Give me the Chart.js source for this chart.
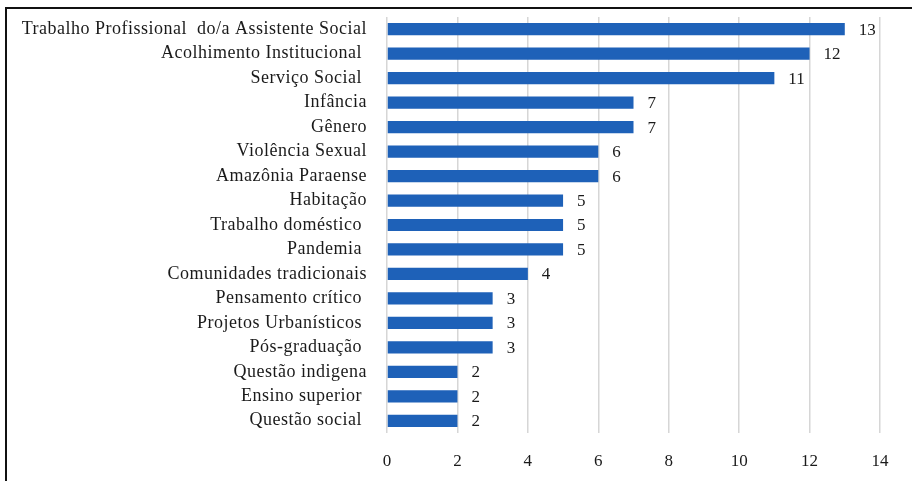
<!DOCTYPE html>
<html>
<head>
<meta charset="utf-8">
<script src="https://cdn.jsdelivr.net/npm/chart.js@4"></script>
<style>
  html, body { margin: 0; padding: 0; background: #fff; overflow: hidden; }
  #wrap { position: relative; width: 912px; height: 481px; }
  #frame { position: absolute; left: 5px; top: 7px; width: 1000px; height: 600px;
           border-left: 2px solid #111; border-top: 2px solid #111; }
  canvas { position: absolute; left: 0; top: 0; }
</style>
</head>
<body>
<div id="wrap">
  <div id="frame"></div>
  <canvas id="chart" width="912" height="481"></canvas>
</div>
<script>
const categories = [
    'Trabalho Profissional  do/a Assistente Social',
    'Acolhimento Institucional ',
    'Serviço Social ',
    'Infância',
    'Gênero',
    'Violência Sexual',
    'Amazônia Paraense',
    'Habitação',
    'Trabalho doméstico ',
    'Pandemia ',
    'Comunidades tradicionais',
    'Pensamento crítico ',
    'Projetos Urbanísticos ',
    'Pós-graduação ',
    'Questão indigena',
    'Ensino superior ',
    'Questão social '
];
const values = [13, 12, 11, 7, 7, 6, 6, 5, 5, 5, 4, 3, 3, 3, 2, 2, 2];
const xTicks = [0, 2, 4, 6, 8, 10, 12, 14];

const serif = "'Liberation Serif', 'DejaVu Serif', serif";
const textColor = '#1a1a1a';

const barValues = {
    id: 'barValues',
    afterLayout(chart) {
        // the category labels in the original are spaced out a little
        const y = chart.scales.y;
        if (!y._spaced) {
            const orig = y.drawLabels.bind(y);
            y.drawLabels = function (area) {
                const c = chart.ctx;
                c.save();
                c.letterSpacing = '0.5px';
                orig(area);
                c.restore();
            };
            y._spaced = true;
        }
    },
    // numbers at the end of each bar
    afterDatasetsDraw(chart) {
        const c = chart.ctx;
        const meta = chart.getDatasetMeta(0);
        c.save();
        c.font = '17px ' + serif;
        c.fillStyle = textColor;
        c.textAlign = 'left';
        c.textBaseline = 'middle';
        meta.data.forEach((bar, i) => {
            c.fillText(String(values[i]), bar.x + 14, bar.y + 1);
        });
        c.restore();
    }
};

new Chart(document.getElementById('chart'), {
    type: 'bar',
    data: {
        labels: categories,
        datasets: [{
            data: values,
            backgroundColor: '#1E61B8',
            barPercentage: 0.5,
            categoryPercentage: 1
        }]
    },
    options: {
        indexAxis: 'y',
        responsive: false,
        animation: false,
        layout: { padding: { left: 0, top: 17, right: 32, bottom: 0 } },
        plugins: { legend: { display: false }, tooltip: { enabled: false } },
        scales: {
            x: {
                min: 0,
                max: 14,
                afterBuildTicks(scale) {
                    scale.ticks = xTicks.map(v => ({ value: v }));
                },
                afterFit(scale) {
                    scale.height = 48;
                    scale.paddingLeft = 0;
                    scale.paddingRight = 0;
                },
                grid: { color: '#d6d6d6', lineWidth: 1.5, drawTicks: false },
                border: { display: false },
                ticks: { padding: 18, color: textColor, font: { family: serif, size: 17 } }
            },
            y: {
                afterFit(scale) {
                    scale.width = 387;
                    scale.paddingTop = 0;
                    scale.paddingBottom = 0;
                },
                grid: { display: false, drawTicks: false },
                border: { display: false },
                ticks: { autoSkip: false, padding: 20, color: textColor, font: { family: serif, size: 18 } }
            }
        }
    },
    plugins: [barValues]
});
</script>
</body>
</html>
